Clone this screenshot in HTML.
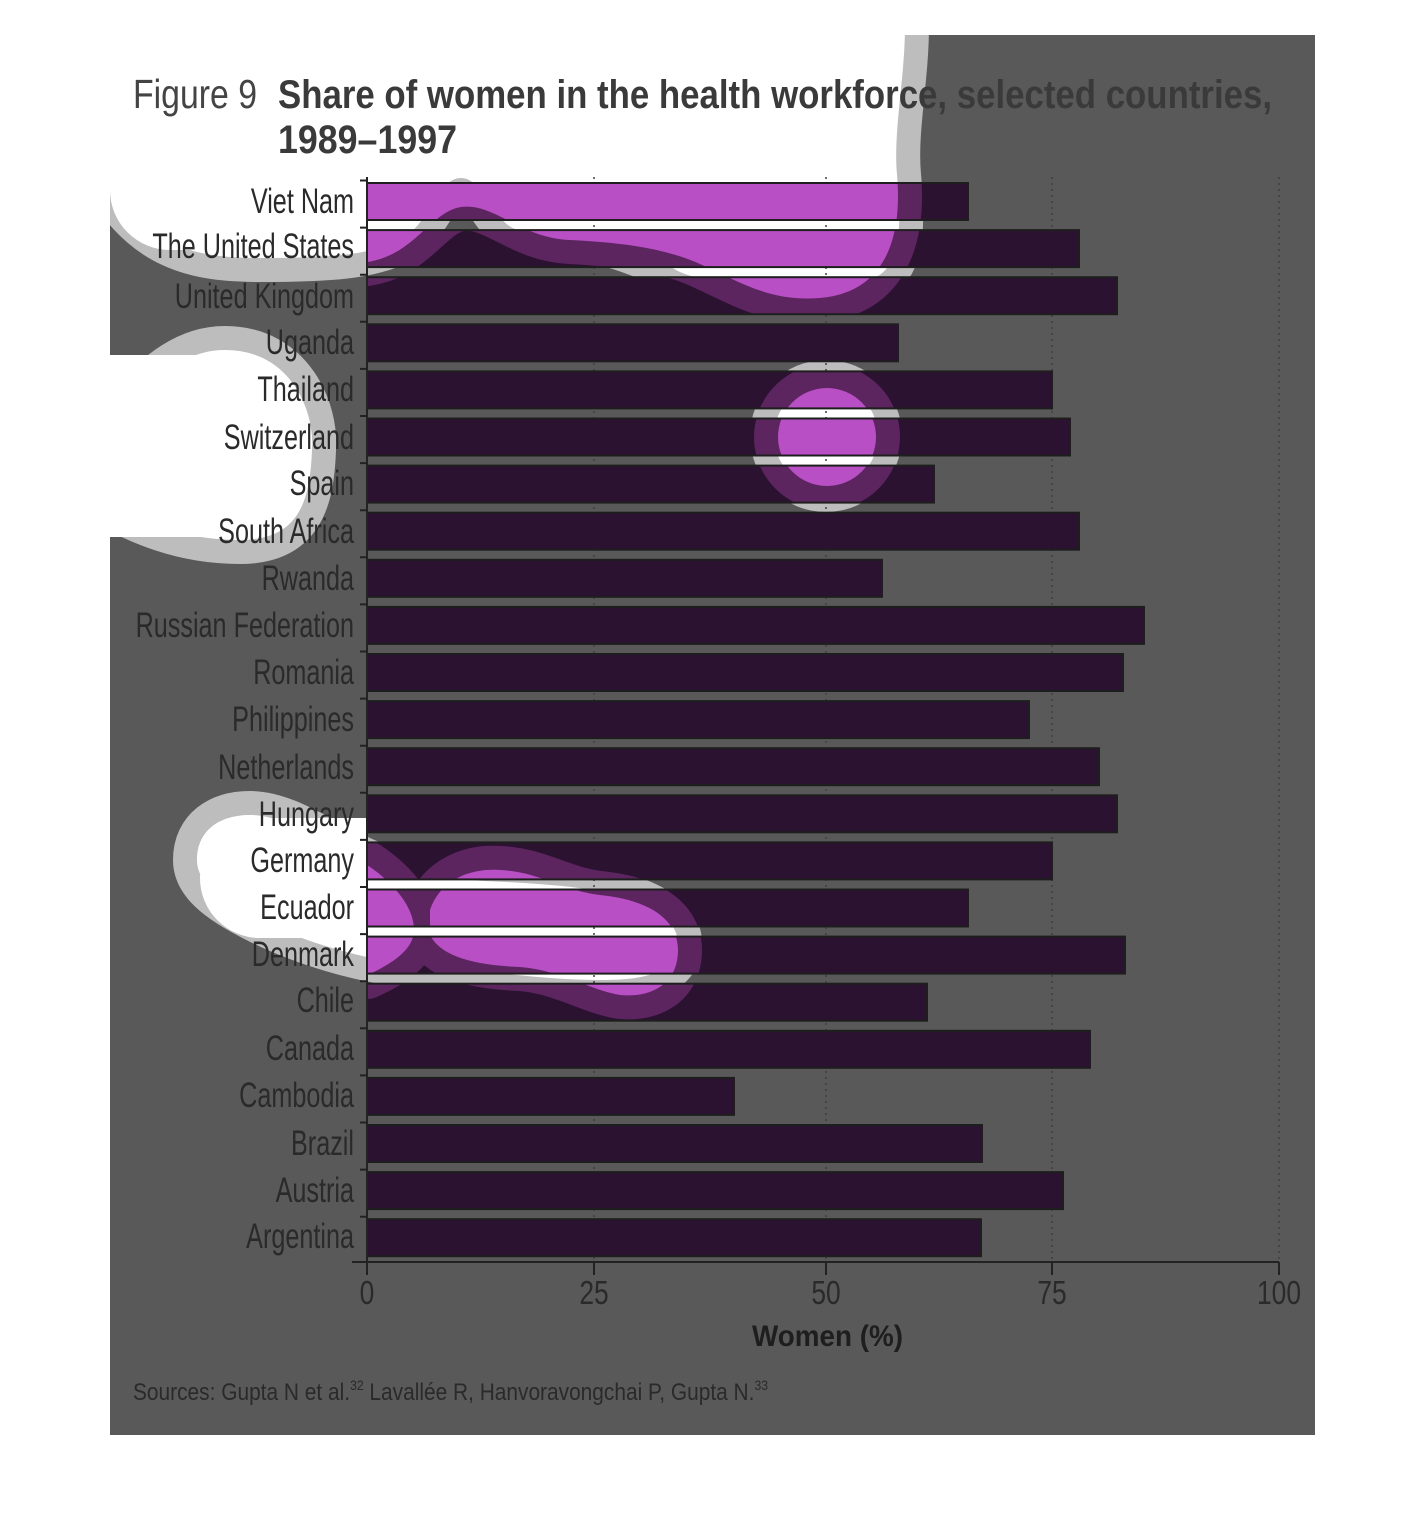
<!DOCTYPE html>
<html><head><meta charset="utf-8"><style>html,body{margin:0;padding:0;background:#fff}.l{position:absolute;left:0;top:0;display:block}.w{position:absolute;background:#fff}</style></head>
<body>
<div style="position:relative;width:1426px;height:1530px;overflow:hidden">
<svg class="l" width="1426" height="1530" viewBox="0 0 1426 1530" xmlns="http://www.w3.org/2000/svg">
<rect x="110" y="35" width="1205" height="1400" fill="#595959"/>
<path fill="#bdbdbd" stroke="#bdbdbd" stroke-width="48" stroke-linejoin="round" d="M100,25 L905,25 C905,80 893,130 897,175 C902,230 900,262 878,276 C840,292 720,290 680,272 C640,250 590,232 520,230 C495,228 485,178 461,178 C437,178 430,225 400,240 C370,255 330,258 260,258 C200,258 140,250 100,165 Z"/>
<path fill="#bdbdbd" stroke="#bdbdbd" stroke-width="48" stroke-linejoin="round" d="M100,430 C140,400 170,350 225,350 C290,350 315,410 312,450 C310,500 300,540 240,540 C180,540 140,520 100,500 Z"/>
<circle fill="#bdbdbd" cx="826" cy="436" r="76"/>
<path fill="#bdbdbd" stroke="#bdbdbd" stroke-width="48" stroke-linejoin="round" d="M197,860 C197,830 220,815 250,815 C290,815 330,850 380,868 C430,882 500,880 550,885 C620,890 680,910 678,945 C676,975 640,980 600,980 C540,980 480,970 420,965 C360,960 300,940 260,920 C215,898 197,880 197,860 Z"/>
<path fill="#ffffff" d="M100,25 L905,25 C905,80 893,130 897,175 C902,230 900,262 878,276 C840,292 720,290 680,272 C640,250 590,232 520,230 C495,228 485,178 461,178 C437,178 430,225 400,240 C370,255 330,258 260,258 C200,258 140,250 100,165 Z"/>
<path fill="#ffffff" d="M100,430 C140,400 170,350 225,350 C290,350 315,410 312,450 C310,500 300,540 240,540 C180,540 140,520 100,500 Z"/>
<circle fill="#ffffff" cx="826" cy="436" r="52"/>
<path fill="#ffffff" d="M197,860 C197,830 220,815 250,815 C290,815 330,850 380,868 C430,882 500,880 550,885 C620,890 680,910 678,945 C676,975 640,980 600,980 C540,980 480,970 420,965 C360,960 300,940 260,920 C215,898 197,880 197,860 Z"/>
<rect x="0" y="0" width="1426" height="35" fill="#fff"/>
<rect x="0" y="0" width="110" height="1530" fill="#fff"/>
<rect x="1315" y="0" width="111" height="1530" fill="#fff"/>
<rect x="0" y="1435" width="1426" height="95" fill="#fff"/>
</svg>
<div class="w" style="left:110px;top:35px;width:785px;height:142px"></div>
<div class="w" style="left:110px;top:150px;width:250px;height:100px;border-radius:0 0 60px 60px"></div>
<div class="w" style="left:110px;top:355px;width:200px;height:182px;border-radius:0 90px 80px 0"></div>
<div class="w" style="left:200px;top:818px;width:167px;height:120px;border-radius:60px 0 0 60px"></div>
<svg class="l" width="1426" height="1530" viewBox="0 0 1426 1530" xmlns="http://www.w3.org/2000/svg" font-family="Liberation Sans, sans-serif">
<defs>
<clipPath id="barclip">
<rect x="367" y="183.0" width="601" height="37"/>
<rect x="367" y="230.1" width="712" height="37"/>
<rect x="367" y="277.2" width="750" height="37"/>
<rect x="367" y="324.3" width="531" height="37"/>
<rect x="367" y="371.4" width="685" height="37"/>
<rect x="367" y="418.5" width="703" height="37"/>
<rect x="367" y="465.6" width="567" height="37"/>
<rect x="367" y="512.7" width="712" height="37"/>
<rect x="367" y="559.8" width="515" height="37"/>
<rect x="367" y="606.9" width="777" height="37"/>
<rect x="367" y="654.0" width="756" height="37"/>
<rect x="367" y="701.1" width="662" height="37"/>
<rect x="367" y="748.2" width="732" height="37"/>
<rect x="367" y="795.3" width="750" height="37"/>
<rect x="367" y="842.4" width="685" height="37"/>
<rect x="367" y="889.5" width="601" height="37"/>
<rect x="367" y="936.6" width="758" height="37"/>
<rect x="367" y="983.7" width="560" height="37"/>
<rect x="367" y="1030.8" width="723" height="37"/>
<rect x="367" y="1077.9" width="367" height="37"/>
<rect x="367" y="1125.0" width="615" height="37"/>
<rect x="367" y="1172.1" width="696" height="37"/>
<rect x="367" y="1219.2" width="614" height="37"/>
</clipPath>
</defs>
<g stroke="#3f3f3f" stroke-width="1.5" stroke-dasharray="2,4">
<line x1="594" y1="177" x2="594" y2="1262"/><line x1="826" y1="177" x2="826" y2="1262"/>
<line x1="1052" y1="177" x2="1052" y2="1262"/><line x1="1279" y1="177" x2="1279" y2="1262"/>
</g>
<g clip-path="url(#barclip)">
<rect x="360" y="170" width="930" height="1100" fill="#2b1230"/>
<g fill="#5c2560" stroke="#5c2560" stroke-width="48" stroke-linejoin="round">
<path d="M367,175 L897,175 C902,230 890,292 820,298 C770,302 740,282 700,264 C660,246 610,242 570,240 C520,238 495,203 461,207 C430,212 415,255 367,262 Z"/>
<circle cx="827" cy="437" r="49"/>
<path d="M430,910 C440,880 470,868 500,870 C540,872 560,890 600,895 C650,900 678,920 678,950 C678,985 650,998 620,995 C590,990 560,970 520,967 C470,965 440,955 430,935 Z"/>
<path d="M367,865 C390,880 414,905 414,930 C414,950 390,965 367,975 Z"/>
</g>
<g fill="#b84fc4">
<path d="M367,175 L897,175 C902,230 890,292 820,298 C770,302 740,282 700,264 C660,246 610,242 570,240 C520,238 495,203 461,207 C430,212 415,255 367,262 Z"/>
<circle cx="827" cy="437" r="49"/>
<path d="M430,910 C440,880 470,868 500,870 C540,872 560,890 600,895 C650,900 678,920 678,950 C678,985 650,998 620,995 C590,990 560,970 520,967 C470,965 440,955 430,935 Z"/>
<path d="M367,865 C390,880 414,905 414,930 C414,950 390,965 367,975 Z"/>
</g>
</g>
<g fill="none" stroke="#1e1e1e" stroke-width="2">
<rect x="367" y="183.0" width="601" height="37"/>
<rect x="367" y="230.1" width="712" height="37"/>
<rect x="367" y="277.2" width="750" height="37"/>
<rect x="367" y="324.3" width="531" height="37"/>
<rect x="367" y="371.4" width="685" height="37"/>
<rect x="367" y="418.5" width="703" height="37"/>
<rect x="367" y="465.6" width="567" height="37"/>
<rect x="367" y="512.7" width="712" height="37"/>
<rect x="367" y="559.8" width="515" height="37"/>
<rect x="367" y="606.9" width="777" height="37"/>
<rect x="367" y="654.0" width="756" height="37"/>
<rect x="367" y="701.1" width="662" height="37"/>
<rect x="367" y="748.2" width="732" height="37"/>
<rect x="367" y="795.3" width="750" height="37"/>
<rect x="367" y="842.4" width="685" height="37"/>
<rect x="367" y="889.5" width="601" height="37"/>
<rect x="367" y="936.6" width="758" height="37"/>
<rect x="367" y="983.7" width="560" height="37"/>
<rect x="367" y="1030.8" width="723" height="37"/>
<rect x="367" y="1077.9" width="367" height="37"/>
<rect x="367" y="1125.0" width="615" height="37"/>
<rect x="367" y="1172.1" width="696" height="37"/>
<rect x="367" y="1219.2" width="614" height="37"/>
</g>
<g stroke="#222" stroke-width="2">
<line x1="367" y1="177" x2="367" y2="1262"/>
<line x1="352" y1="1262" x2="1279" y2="1262"/>
<path d="M360,180.5H367M360,227.6H367M360,274.7H367M360,321.8H367M360,368.9H367M360,416H367M360,463.1H367M360,510.2H367M360,557.3H367M360,604.4H367M360,651.5H367M360,698.6H367M360,745.7H367M360,792.8H367M360,839.9H367M360,887H367M360,934.1H367M360,981.2H367M360,1028.3H367M360,1075.4H367M360,1122.5H367M360,1169.6H367M360,1216.7H367"/>
<path d="M367,1262V1275M594,1262V1275M826,1262V1275M1052,1262V1275M1279,1262V1275"/>
</g>
<g fill="#2a2a2a" font-size="35" text-anchor="end">
<text transform="translate(354,213) scale(0.72,1)">Viet Nam</text>
<text transform="translate(354,258) scale(0.72,1)">The United States</text>
<text transform="translate(354,308) scale(0.72,1)">United Kingdom</text>
<text transform="translate(354,354) scale(0.72,1)">Uganda</text>
<text transform="translate(354,401) scale(0.72,1)">Thailand</text>
<text transform="translate(354,449) scale(0.72,1)">Switzerland</text>
<text transform="translate(354,495) scale(0.72,1)">Spain</text>
<text transform="translate(354,543) scale(0.72,1)">South Africa</text>
<text transform="translate(354,590) scale(0.72,1)">Rwanda</text>
<text transform="translate(354,637) scale(0.72,1)">Russian Federation</text>
<text transform="translate(354,684) scale(0.72,1)">Romania</text>
<text transform="translate(354,731) scale(0.72,1)">Philippines</text>
<text transform="translate(354,779) scale(0.72,1)">Netherlands</text>
<text transform="translate(354,826) scale(0.72,1)">Hungary</text>
<text transform="translate(354,872) scale(0.72,1)">Germany</text>
<text transform="translate(354,919) scale(0.72,1)">Ecuador</text>
<text transform="translate(354,966) scale(0.72,1)">Denmark</text>
<text transform="translate(354,1012) scale(0.72,1)">Chile</text>
<text transform="translate(354,1060) scale(0.72,1)">Canada</text>
<text transform="translate(354,1107) scale(0.72,1)">Cambodia</text>
<text transform="translate(354,1155) scale(0.72,1)">Brazil</text>
<text transform="translate(354,1202) scale(0.72,1)">Austria</text>
<text transform="translate(354,1248) scale(0.72,1)">Argentina</text>
</g>
<g fill="#2a2a2a" font-size="33" text-anchor="middle">
<text transform="translate(367,1304) scale(0.8,1)">0</text>
<text transform="translate(594,1304) scale(0.8,1)">25</text>
<text transform="translate(826,1304) scale(0.8,1)">50</text>
<text transform="translate(1052,1304) scale(0.8,1)">75</text>
<text transform="translate(1279,1304) scale(0.8,1)">100</text>
</g>
<text x="752" y="1346" font-size="30" font-weight="bold" fill="#1e1e1e" textLength="151" lengthAdjust="spacingAndGlyphs">Women (%)</text>
<text x="133" y="1400" font-size="24" fill="#2a2a2a" textLength="635" lengthAdjust="spacingAndGlyphs">Sources: Gupta N et al.<tspan font-size="14" dy="-10">32</tspan><tspan dy="10"> Lavallée R, Hanvoravongchai P, Gupta N.</tspan><tspan font-size="14" dy="-10">33</tspan></text>
<text x="133" y="108" font-size="41" fill="#444" textLength="124" lengthAdjust="spacingAndGlyphs">Figure 9</text>
<text x="278" y="108" font-size="40" font-weight="bold" fill="#3a3a3a" textLength="994" lengthAdjust="spacingAndGlyphs">Share of women in the health workforce, selected countries,</text>
<text x="278" y="153" font-size="40" font-weight="bold" fill="#3a3a3a" textLength="179" lengthAdjust="spacingAndGlyphs">1989–1997</text>
</svg>
</div>
</body></html>
